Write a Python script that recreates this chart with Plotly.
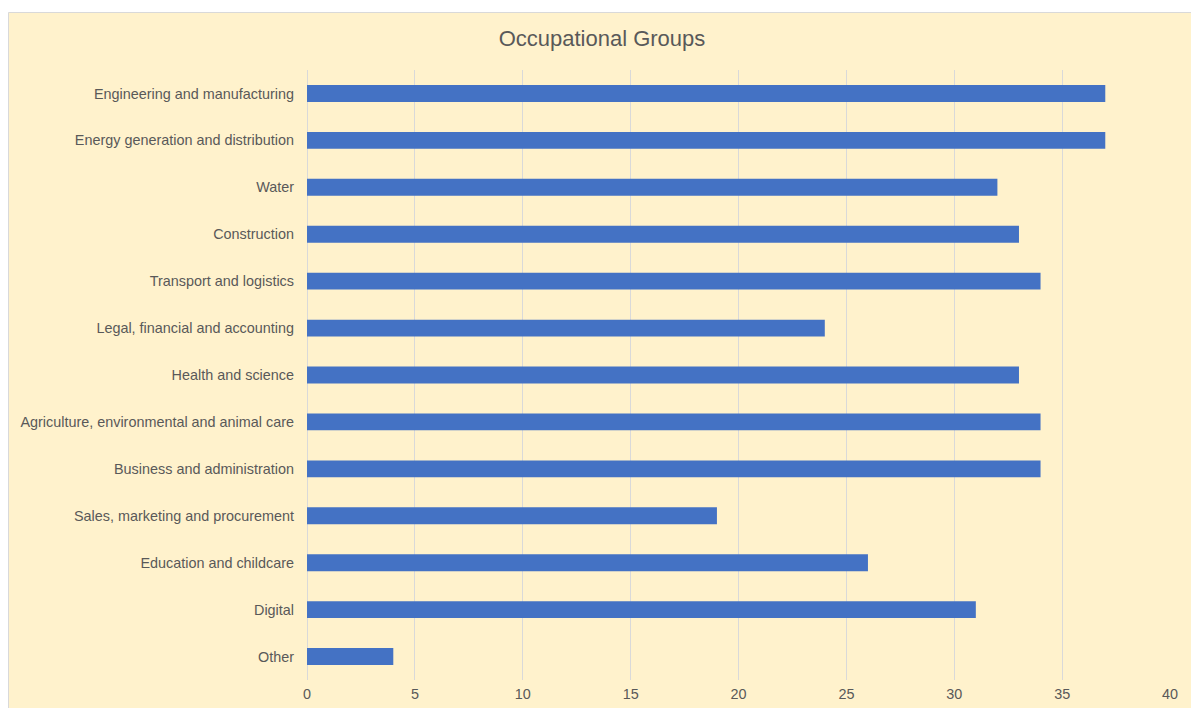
import plotly.graph_objects as go

# Occupational groups, listed top to bottom
groups = [
    "Engineering and manufacturing",
    "Energy generation and distribution",
    "Water",
    "Construction",
    "Transport and logistics",
    "Legal, financial and accounting",
    "Health and science",
    "Agriculture, environmental and animal care",
    "Business and administration",
    "Sales, marketing and procurement",
    "Education and childcare",
    "Digital",
    "Other",
]
counts = [37, 37, 32, 33, 34, 24, 33, 34, 34, 19, 26, 31, 4]

x_ticks = [0, 5, 10, 15, 20, 25, 30, 35, 40]

BG = "#FFF2CC"
BAR = "#4472C4"
GRID = "#D9D9D9"
TEXT = "#595959"
FONT = "Liberation Sans, Arial, sans-serif"

W, H = 1191, 708
L, R, T, B = 307, 21, 70, 28
pw, ph = W - L - R, H - T - B


def px_to_paper_x(px):
    return (px - L) / pw


def px_to_paper_y(py):
    return (H - B - py) / ph


fig = go.Figure(
    go.Bar(
        x=counts,
        y=groups,
        orientation="h",
        marker=dict(color=BAR, line=dict(width=0)),
        width=0.36,
        hoverinfo="x+y",
    )
)

# chart-area panel with a thin grey border
fig.add_shape(
    type="rect",
    xref="paper",
    yref="paper",
    x0=px_to_paper_x(8.5),
    x1=px_to_paper_x(W + 60),
    y0=px_to_paper_y(H + 60),
    y1=px_to_paper_y(12.5),
    fillcolor=BG,
    line=dict(color=GRID, width=1),
    layer="below",
)

fig.update_layout(
    width=W,
    height=H,
    margin=dict(l=L, r=R, t=T, b=B, autoexpand=False),
    paper_bgcolor="white",
    plot_bgcolor=BG,
    showlegend=False,
    title=dict(
        text="Occupational Groups",
        x=602 / W,
        xanchor="center",
        y=1 - 38 / H,
        yanchor="middle",
        font=dict(family=FONT, size=22, color=TEXT),
    ),
    xaxis=dict(
        range=[0, 40],
        tickvals=x_ticks,
        ticktext=[str(v) for v in x_ticks],
        showgrid=True,
        gridcolor=GRID,
        gridwidth=1.3,
        zeroline=True,
        zerolinecolor=GRID,
        zerolinewidth=1.3,
        showline=False,
        ticks="",
        ticklabelstandoff=4,
        automargin=False,
        tickfont=dict(family=FONT, size=14.4, color=TEXT),
        fixedrange=True,
    ),
    yaxis=dict(
        categoryorder="array",
        categoryarray=groups,
        autorange="reversed",
        showgrid=False,
        zeroline=False,
        showline=False,
        ticks="",
        ticklabelstandoff=12,
        automargin=False,
        tickfont=dict(family=FONT, size=14.4, color=TEXT),
        fixedrange=True,
    ),
)

fig.write_html("out.html")
